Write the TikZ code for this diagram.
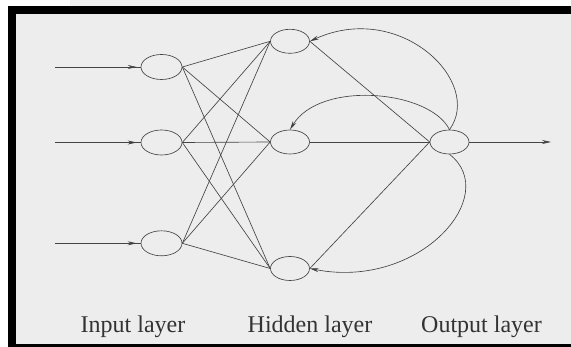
\documentclass[tikz,border=0pt]{standalone}
\usepackage{fontspec}
\setmainfont{Liberation Serif}
\usetikzlibrary{arrows.meta,shapes.geometric}
\definecolor{paper}{HTML}{EDEDED}
\definecolor{ink}{HTML}{444444}
\definecolor{tip}{HTML}{333333}
\definecolor{txt}{HTML}{333333}
\begin{document}
\begin{tikzpicture}[x=1pt,y=-1pt,
  wire/.style={draw=ink,line width=0.65pt},
  arr/.style={-{Stealth[length=9pt,width=4pt,fill=tip]}},
  inneuron/.style={ellipse,draw=ink,line width=0.65pt,minimum width=41pt,minimum height=25pt,inner sep=0pt},
  hidneuron/.style={ellipse,draw=ink,line width=0.65pt,minimum width=39pt,minimum height=24pt,inner sep=0pt},
  lab/.style={anchor=base,text=txt,font=\fontsize{24}{28}\selectfont,inner sep=0pt}]
\useasboundingbox (0,0) rectangle (571,347);
\fill[white] (0,0) rectangle (571,347);
\fill[gray!12] (70,0) rectangle (520,6);
\fill[paper] (8,6) rectangle (571,347);
\fill[black] (8,6) rectangle (16,347);
\fill[black] (8,6) rectangle (571,14);
\fill[black] (8,344) rectangle (571,347);
% nodes
\node[inneuron] (i1) at (161.5,67) {};
\node[inneuron] (i2) at (161.5,142.5) {};
\node[inneuron] (i3) at (161.5,243.3) {};
\node[hidneuron] (h1) at (290,41.3) {};
\node[hidneuron] (h2) at (290,142) {};
\node[hidneuron] (h3) at (290,268.5) {};
\node[hidneuron] (o) at (449.5,142) {};
% inputs
\coordinate (a1) at (55,67);
\coordinate (a2) at (55,142.5);
\coordinate (a3) at (55,243.3);
\foreach \k in {1,2,3}{
  \draw[wire] (a\k) -- (i\k.west);
  \draw[wire,arr,shorten >=4pt] (a\k) -- (i\k.west);
}
% input to hidden
\foreach \a in {1,2,3}{
  \foreach \b in {1,2,3}{
    \draw[wire] (i\a.east) -- (h\b.west);
  }
}
% hidden to output
\foreach \b in {1,2,3}{
  \draw[wire] (h\b.east) -- (o.west);
}
% output
\coordinate (z) at (551,142);
\draw[wire,arr] (o.east) -- (z);
% feedback
\draw[wire,arr] (o.north) .. controls (484,82) and (400,0) .. (h1.east);
\draw[wire,arr] (o.north) .. controls (430,90) and (320,80) .. (h2.north);
\draw[wire,arr] (o.south) .. controls (502,195) and (420,290) .. (h3.east);
% labels
\node[lab] (l1) at (133,332.5) {Input layer};
\node[lab] (l2) at (310,332.5) {Hidden layer};
\node[lab] (l3) at (481.5,332.5) {Output layer};
\end{tikzpicture}
\end{document}
